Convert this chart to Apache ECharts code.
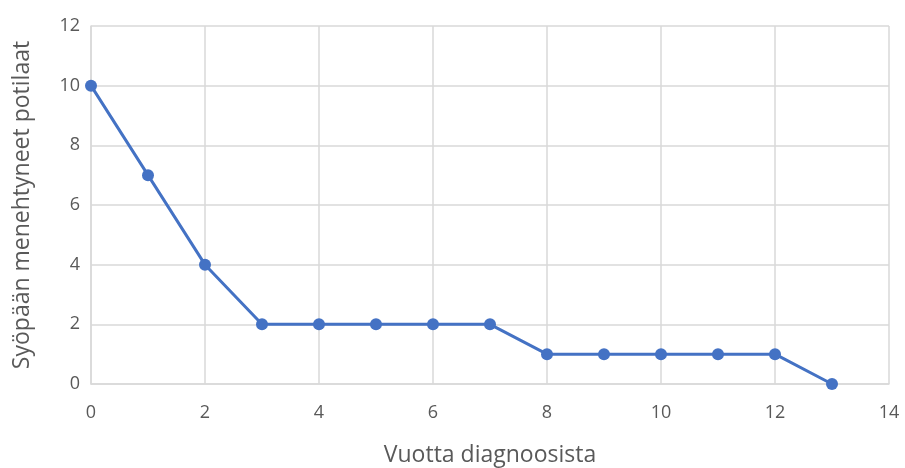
<!DOCTYPE html>
<html>
<head>
<meta charset="utf-8">
<script src="https://cdn.jsdelivr.net/npm/echarts@6/dist/echarts.min.js"></script>
<style>
  html, body { margin: 0; padding: 0; background: #fff; }
  #main { width: 905px; height: 468px; }
</style>
</head>
<body>
<div id="main"></div>
<script>
// vuodet diagnoosista ja kuolleiden määrä
var years = [0, 1, 2, 3, 4, 5, 6, 7, 8, 9, 10, 11, 12, 13];
var deaths = [10, 7, 4, 2, 2, 2, 2, 2, 1, 1, 1, 1, 1, 0];

var points = years.map(function (y, i) { return [y, deaths[i]]; });

var chart = echarts.init(document.getElementById('main'));
var font = '"Open Sans", "Noto Sans", sans-serif';

chart.setOption({
  animation: false,
  textStyle: { fontFamily: font },
  grid: { left: 91, right: 16, top: 26, bottom: 84, outerBoundsMode: 'none' },
  xAxis: {
    type: 'value',
    min: 0, max: 14, interval: 2,
    name: 'Vuotta diagnoosista',
    nameLocation: 'middle',
    nameGap: 60,
    nameTextStyle: { color: '#595959', fontSize: 23, fontFamily: font },
    axisLine: { show: true, lineStyle: { color: '#d9d9d9', width: 1.5 } },
    axisTick: { show: false },
    axisLabel: { color: '#595959', fontSize: 18, margin: 20, fontFamily: font },
    splitLine: { show: true, lineStyle: { color: '#d9d9d9', width: 1.5 } }
  },
  yAxis: {
    type: 'value',
    min: 0, max: 12, interval: 2,
    name: 'Syöpään menehtyneet potilaat',
    nameLocation: 'middle',
    nameGap: 57,
    nameTextStyle: { color: '#595959', fontSize: 23, fontFamily: font },
    axisLine: { show: true, lineStyle: { color: '#d9d9d9', width: 1.5 } },
    axisTick: { show: false },
    axisLabel: { color: '#595959', fontSize: 18, margin: 11, fontFamily: font },
    splitLine: { show: true, lineStyle: { color: '#d9d9d9', width: 1.5 } }
  },
  series: [{
    type: 'line',
    data: points,
    symbol: 'circle',
    symbolSize: 12,
    itemStyle: { color: '#4472c4' },
    lineStyle: { color: '#4472c4', width: 3 }
  }]
});
</script>
</body>
</html>
